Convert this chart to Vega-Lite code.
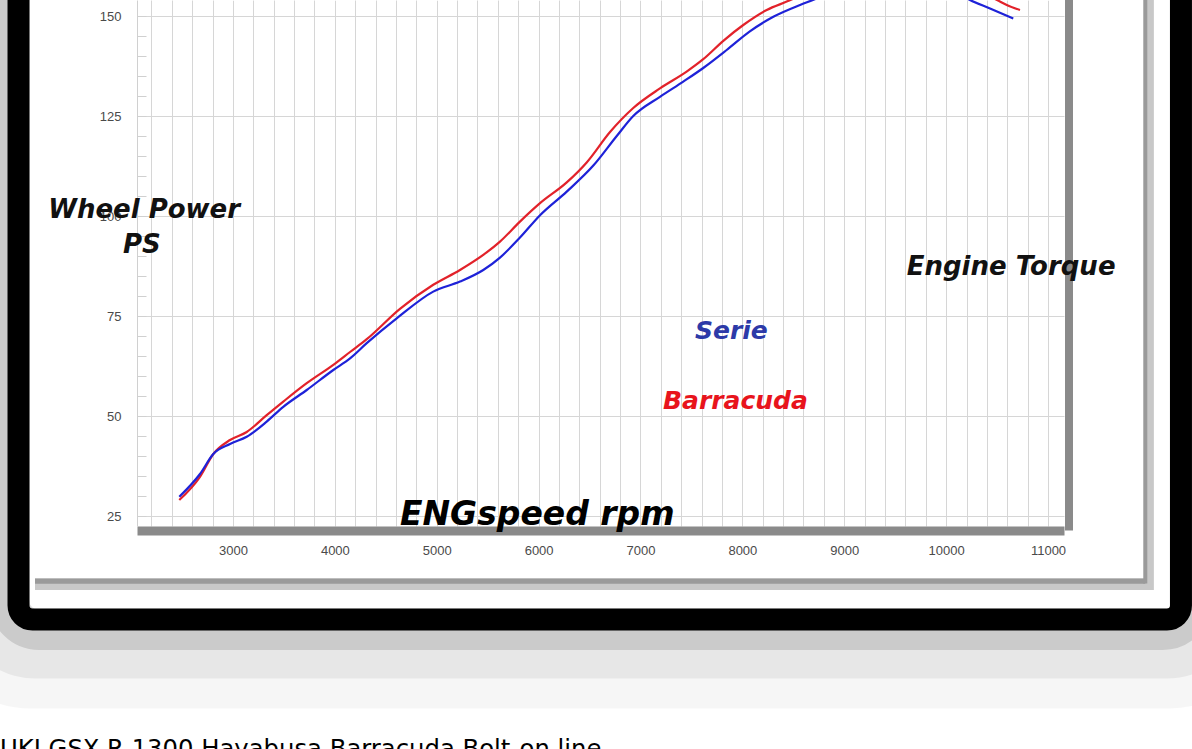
{
  "$schema": "https://vega.github.io/schema/vega-lite/v6.json",
  "width": 927,
  "height": 526,
  "autosize": {"type": "none"},
  "padding": {"left": 137, "top": 0, "right": 128, "bottom": 223},
  "background": "white",
  "config": {
    "view": {"stroke": null},
    "axis": {"labelFont": "Liberation Sans", "labelFontSize": 13, "labelColor": "#4a4a4a", "title": null}
  },
  "resolve": {"axis": {"x": "independent", "y": "independent"}},
  "layer": [
    {
      "data": {"values": [{"part": "outermost shadow"}]},
      "mark": {"type": "rect", "fill": "transparent", "stroke": "#000", "strokeOpacity": 0.035, "strokeWidth": 100, "cornerRadius": 50},
      "encoding": {
        "x": {"datum": 512, "type": "quantitative", "scale": {"domain": [2058, 11157], "nice": false, "zero": false}, "axis": null},
        "x2": {"datum": 12688},
        "y": {"datum": 180, "type": "quantitative", "scale": {"domain": [22.5, 154], "nice": false, "zero": false}, "axis": null},
        "y2": {"datum": -10.625}
      }
    },
    {
      "data": {"values": [{"part": "outer shadow"}]},
      "mark": {"type": "rect", "fill": "transparent", "stroke": "#000", "strokeOpacity": 0.06, "strokeWidth": 70, "cornerRadius": 40},
      "encoding": {
        "x": {"datum": 659, "type": "quantitative", "scale": {"domain": [2058, 11157], "nice": false, "zero": false}, "axis": null},
        "x2": {"datum": 12560},
        "y": {"datum": 175, "type": "quantitative", "scale": {"domain": [22.5, 154], "nice": false, "zero": false}, "axis": null},
        "y2": {"datum": -6.875}
      }
    },
    {
      "data": {"values": [{"part": "inner shadow"}]},
      "mark": {"type": "rect", "fill": "transparent", "stroke": "#000", "strokeOpacity": 0.12, "strokeWidth": 40, "cornerRadius": 30},
      "encoding": {
        "x": {"datum": 802, "type": "quantitative", "scale": {"domain": [2058, 11157], "nice": false, "zero": false}, "axis": null},
        "x2": {"datum": 12420},
        "y": {"datum": 175, "type": "quantitative", "scale": {"domain": [22.5, 154], "nice": false, "zero": false}, "axis": null},
        "y2": {"datum": -3.5}
      }
    },
    {
      "data": {"values": [{"part": "frame"}]},
      "mark": {"type": "rect", "fill": "transparent", "stroke": "#000", "strokeWidth": 22, "cornerRadius": 14},
      "encoding": {
        "x": {"datum": 895, "type": "quantitative", "scale": {"domain": [2058, 11157], "nice": false, "zero": false}, "axis": null},
        "x2": {"datum": 12305},
        "y": {"datum": 175, "type": "quantitative", "scale": {"domain": [22.5, 154], "nice": false, "zero": false}, "axis": null},
        "y2": {"datum": -0.875}
      }
    },
    {
      "data": {"values": [{"part": "paper shadow bottom soft"}]},
      "mark": {"type": "rule", "stroke": "#c8c8c8", "strokeWidth": 12},
      "encoding": {
        "x": {"datum": 1057, "type": "quantitative", "scale": {"domain": [2058, 11157], "nice": false, "zero": false}, "axis": null},
        "x2": {"datum": 11990},
        "y": {"datum": 8, "type": "quantitative", "scale": {"domain": [22.5, 154], "nice": false, "zero": false}, "axis": null}
      }
    },
    {
      "data": {"values": [{"part": "paper shadow right soft"}]},
      "mark": {"type": "rule", "stroke": "#c8c8c8", "strokeWidth": 10},
      "encoding": {
        "x": {"datum": 11990, "type": "quantitative", "scale": {"domain": [2058, 11157], "nice": false, "zero": false}, "axis": null},
        "y": {"datum": 175, "type": "quantitative", "scale": {"domain": [22.5, 154], "nice": false, "zero": false}, "axis": null},
        "y2": {"datum": 6.5}
      }
    },
    {
      "data": {"values": [{"part": "paper shadow bottom"}]},
      "mark": {"type": "rule", "stroke": "#9a9a9a", "strokeWidth": 5},
      "encoding": {
        "x": {"datum": 1057, "type": "quantitative", "scale": {"domain": [2058, 11157], "nice": false, "zero": false}, "axis": null},
        "x2": {"datum": 11955},
        "y": {"datum": 8.7, "type": "quantitative", "scale": {"domain": [22.5, 154], "nice": false, "zero": false}, "axis": null}
      }
    },
    {
      "data": {"values": [{"part": "paper shadow right"}]},
      "mark": {"type": "rule", "stroke": "#9a9a9a", "strokeWidth": 4},
      "encoding": {
        "x": {"datum": 11955, "type": "quantitative", "scale": {"domain": [2058, 11157], "nice": false, "zero": false}, "axis": null},
        "y": {"datum": 175, "type": "quantitative", "scale": {"domain": [22.5, 154], "nice": false, "zero": false}, "axis": null},
        "y2": {"datum": 8.1}
      }
    },
    {
      "data": {
        "values": [
          {"series": "Barracuda", "rpm": 2473, "ps": 29.0},
          {"series": "Barracuda", "rpm": 2676, "ps": 34.8},
          {"series": "Barracuda", "rpm": 2807, "ps": 40.5},
          {"series": "Barracuda", "rpm": 2971, "ps": 44.0},
          {"series": "Barracuda", "rpm": 3135, "ps": 46.0},
          {"series": "Barracuda", "rpm": 3331, "ps": 50.2},
          {"series": "Barracuda", "rpm": 3494, "ps": 53.6},
          {"series": "Barracuda", "rpm": 3724, "ps": 58.2},
          {"series": "Barracuda", "rpm": 3985, "ps": 62.8},
          {"series": "Barracuda", "rpm": 4149, "ps": 66.0},
          {"series": "Barracuda", "rpm": 4313, "ps": 69.2},
          {"series": "Barracuda", "rpm": 4639, "ps": 76.8},
          {"series": "Barracuda", "rpm": 4966, "ps": 82.8},
          {"series": "Barracuda", "rpm": 5228, "ps": 86.5},
          {"series": "Barracuda", "rpm": 5490, "ps": 90.9},
          {"series": "Barracuda", "rpm": 5621, "ps": 93.6},
          {"series": "Barracuda", "rpm": 5817, "ps": 98.6},
          {"series": "Barracuda", "rpm": 6014, "ps": 103.2},
          {"series": "Barracuda", "rpm": 6276, "ps": 108.4},
          {"series": "Barracuda", "rpm": 6472, "ps": 113.4},
          {"series": "Barracuda", "rpm": 6701, "ps": 121.0},
          {"series": "Barracuda", "rpm": 6929, "ps": 127.0},
          {"series": "Barracuda", "rpm": 7191, "ps": 131.9},
          {"series": "Barracuda", "rpm": 7453, "ps": 136.1},
          {"series": "Barracuda", "rpm": 7616, "ps": 139.2},
          {"series": "Barracuda", "rpm": 7813, "ps": 143.8},
          {"series": "Barracuda", "rpm": 8009, "ps": 147.75},
          {"series": "Barracuda", "rpm": 8239, "ps": 151.5},
          {"series": "Barracuda", "rpm": 8435, "ps": 153.6},
          {"series": "Barracuda", "rpm": 8700, "ps": 156.5},
          {"series": "Barracuda", "rpm": 9000, "ps": 159.0},
          {"series": "Barracuda", "rpm": 9300, "ps": 160.8},
          {"series": "Barracuda", "rpm": 9600, "ps": 161.3},
          {"series": "Barracuda", "rpm": 9900, "ps": 160.2},
          {"series": "Barracuda", "rpm": 10200, "ps": 157.6},
          {"series": "Barracuda", "rpm": 10500, "ps": 154.0},
          {"series": "Barracuda", "rpm": 10595, "ps": 152.75},
          {"series": "Barracuda", "rpm": 10725, "ps": 151.5},
          {"series": "Serie", "rpm": 2473, "ps": 29.8},
          {"series": "Serie", "rpm": 2676, "ps": 35.5},
          {"series": "Serie", "rpm": 2807, "ps": 40.5},
          {"series": "Serie", "rpm": 2971, "ps": 43.0},
          {"series": "Serie", "rpm": 3135, "ps": 44.8},
          {"series": "Serie", "rpm": 3331, "ps": 48.6},
          {"series": "Serie", "rpm": 3494, "ps": 52.3},
          {"series": "Serie", "rpm": 3724, "ps": 56.5},
          {"series": "Serie", "rpm": 3985, "ps": 61.5},
          {"series": "Serie", "rpm": 4149, "ps": 64.4},
          {"series": "Serie", "rpm": 4313, "ps": 68.2},
          {"series": "Serie", "rpm": 4607, "ps": 74.4},
          {"series": "Serie", "rpm": 4966, "ps": 81.1},
          {"series": "Serie", "rpm": 5228, "ps": 83.6},
          {"series": "Serie", "rpm": 5457, "ps": 86.5},
          {"series": "Serie", "rpm": 5621, "ps": 89.6},
          {"series": "Serie", "rpm": 5817, "ps": 94.6},
          {"series": "Serie", "rpm": 6014, "ps": 100.2},
          {"series": "Serie", "rpm": 6276, "ps": 106.1},
          {"series": "Serie", "rpm": 6537, "ps": 112.6},
          {"series": "Serie", "rpm": 6767, "ps": 120.0},
          {"series": "Serie", "rpm": 6929, "ps": 125.0},
          {"series": "Serie", "rpm": 7191, "ps": 129.8},
          {"series": "Serie", "rpm": 7420, "ps": 133.6},
          {"series": "Serie", "rpm": 7616, "ps": 137.0},
          {"series": "Serie", "rpm": 7846, "ps": 141.5},
          {"series": "Serie", "rpm": 8070, "ps": 146.1},
          {"series": "Serie", "rpm": 8304, "ps": 149.8},
          {"series": "Serie", "rpm": 8566, "ps": 152.75},
          {"series": "Serie", "rpm": 8693, "ps": 154.0},
          {"series": "Serie", "rpm": 8900, "ps": 156.2},
          {"series": "Serie", "rpm": 9200, "ps": 158.6},
          {"series": "Serie", "rpm": 9500, "ps": 159.6},
          {"series": "Serie", "rpm": 9800, "ps": 159.0},
          {"series": "Serie", "rpm": 10000, "ps": 157.4},
          {"series": "Serie", "rpm": 10234, "ps": 154.0},
          {"series": "Serie", "rpm": 10431, "ps": 151.9},
          {"series": "Serie", "rpm": 10659, "ps": 149.4}
        ]
      },
      "mark": {"type": "line", "strokeWidth": 2.2, "interpolate": "monotone", "clip": true},
      "encoding": {
        "x": {
          "field": "rpm", "type": "quantitative",
          "scale": {"domain": [2058, 11157], "nice": false, "zero": false},
          "axis": {
            "values": [2200, 2400, 2600, 2800, 3000, 3200, 3400, 3600, 3800, 4000, 4200, 4400, 4600, 4800, 5000, 5200, 5400, 5600, 5800, 6000, 6200, 6400, 6600, 6800, 7000, 7200, 7400, 7600, 7800, 8000, 8200, 8400, 8600, 8800, 9000, 9200, 9400, 9600, 9800, 10000, 10200, 10400, 10600, 10800, 11000],
            "format": "d",
            "labelExpr": "datum.value % 1000 === 0 ? datum.label : ''",
            "labelOverlap": false,
            "labelFlush": false,
            "grid": true, "gridColor": "#d6d6d6", "gridWidth": 1,
            "ticks": false,
            "domain": true, "domainColor": "#8a8a8a", "domainWidth": 9,
            "offset": 4.5,
            "labelPadding": 14
          }
        },
        "y": {
          "field": "ps", "type": "quantitative",
          "scale": {"domain": [22.5, 154], "nice": false, "zero": false},
          "axis": {
            "values": [25, 30, 35, 40, 45, 50, 55, 60, 65, 70, 75, 80, 85, 90, 95, 100, 105, 110, 115, 120, 125, 130, 135, 140, 145, 150],
            "labelExpr": "datum.value % 25 === 0 ? datum.label : ''",
            "labelOverlap": false,
            "labelFlush": false,
            "grid": true, "gridColor": "#d6d6d6",
            "gridOpacity": {"condition": {"test": "datum.value % 25 === 0", "value": 1}, "value": 0},
            "ticks": true, "tickColor": "#d0d0d0", "tickSize": -9,
            "domain": true, "domainColor": "#d0d0d0",
            "labelPadding": 25
          }
        },
        "color": {"field": "series", "type": "nominal", "scale": {"domain": ["Barracuda", "Serie"], "range": ["#e2222a", "#1e22d8"]}, "legend": null}
      }
    },
    {
      "data": {
        "values": [
          {"label": "Wheel Power", "rpm": 1187, "ps": 99.4},
          {"label": "PS", "rpm": 1921, "ps": 90.7},
          {"label": "Engine Torque", "rpm": 9613, "ps": 85.25}
        ]
      },
      "mark": {"type": "text", "align": "left", "baseline": "alphabetic", "font": "DejaVu Sans", "fontWeight": "bold", "fontStyle": "italic", "fontSize": 26, "color": "#111"},
      "encoding": {
        "text": {"field": "label"},
        "x": {
          "field": "rpm", "type": "quantitative",
          "scale": {"domain": [2058, 11157], "nice": false, "zero": false},
          "axis": {
            "values": [3000, 4000, 5000, 6000, 7000, 8000, 9000, 10000, 11000],
            "grid": false, "labels": false, "domain": false,
            "ticks": true, "tickColor": "#ffffff", "tickWidth": 2, "tickSize": 9, "offset": 0, "zindex": 2
          }
        },
        "y": {
          "field": "ps", "type": "quantitative",
          "scale": {"domain": [22.5, 154], "nice": false, "zero": false},
          "axis": {
            "orient": "right", "grid": false, "labels": false, "ticks": false,
            "domain": true, "domainColor": "#8a8a8a", "domainWidth": 8, "domainCap": "square", "offset": 4.5
          }
        }
      }
    },
    {
      "data": {"values": [{"label": "Serie", "rpm": 7535, "ps": 69.25}]},
      "mark": {"type": "text", "align": "left", "baseline": "alphabetic", "font": "DejaVu Sans", "fontWeight": "bold", "fontStyle": "italic", "fontSize": 25, "color": "#2d3aa8"},
      "encoding": {
        "text": {"field": "label"},
        "x": {"field": "rpm", "type": "quantitative", "scale": {"domain": [2058, 11157], "nice": false, "zero": false}, "axis": null},
        "y": {"field": "ps", "type": "quantitative", "scale": {"domain": [22.5, 154], "nice": false, "zero": false}, "axis": null}
      }
    },
    {
      "data": {"values": [{"label": "Barracuda", "rpm": 7221, "ps": 51.75}]},
      "mark": {"type": "text", "align": "left", "baseline": "alphabetic", "font": "DejaVu Sans", "fontWeight": "bold", "fontStyle": "italic", "fontSize": 25, "color": "#e8141c"},
      "encoding": {
        "text": {"field": "label"},
        "x": {"field": "rpm", "type": "quantitative", "scale": {"domain": [2058, 11157], "nice": false, "zero": false}, "axis": null},
        "y": {"field": "ps", "type": "quantitative", "scale": {"domain": [22.5, 154], "nice": false, "zero": false}, "axis": null}
      }
    },
    {
      "data": {"values": [{"label": "ENGspeed rpm", "rpm": 4639, "ps": 22.75}]},
      "mark": {"type": "text", "align": "left", "baseline": "alphabetic", "font": "DejaVu Sans", "fontWeight": "bold", "fontStyle": "italic", "fontSize": 33, "color": "#000"},
      "encoding": {
        "text": {"field": "label"},
        "x": {"field": "rpm", "type": "quantitative", "scale": {"domain": [2058, 11157], "nice": false, "zero": false}, "axis": null},
        "y": {"field": "ps", "type": "quantitative", "scale": {"domain": [22.5, 154], "nice": false, "zero": false}, "axis": null}
      }
    },
    {
      "data": {"values": [{"label": "UKI GSX-R 1300 Hayabusa Barracuda Bolt-on line", "rpm": 713, "ps": -35.25}]},
      "mark": {"type": "text", "align": "left", "baseline": "alphabetic", "font": "DejaVu Sans", "fontSize": 24.3, "color": "#000"},
      "encoding": {
        "text": {"field": "label"},
        "x": {"field": "rpm", "type": "quantitative", "scale": {"domain": [2058, 11157], "nice": false, "zero": false}, "axis": null},
        "y": {"field": "ps", "type": "quantitative", "scale": {"domain": [22.5, 154], "nice": false, "zero": false}, "axis": null}
      }
    }
  ]
}
